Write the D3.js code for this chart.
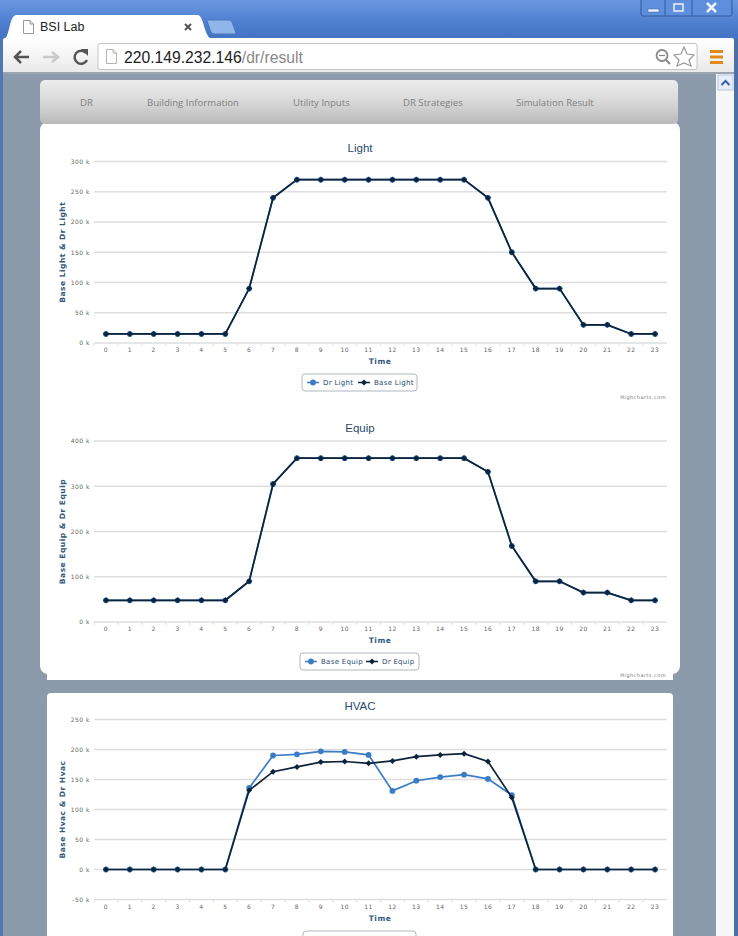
<!DOCTYPE html>
<html lang="en">
<head>
<meta charset="UTF-8" />
<title>BSI Lab</title>
<style>
  html, body { margin: 0; padding: 0; background: #8c9bab; overflow: hidden; }
  svg { display: block; font-family: "DejaVu Sans", sans-serif; }
  .grid line { stroke: #dedede; stroke-width: 1.5; }
  .axis text { font-family: "DejaVu Sans", sans-serif; font-size: 6px; letter-spacing: 0.5px; fill: #666; }
  .axis path, .axis line { stroke: none; }
  .axis-title { font-size: 7.5px; font-weight: bold; letter-spacing: 0.5px; fill: #33587c; }
  .chart-title { font-family: "Liberation Sans", sans-serif; font-size: 11.5px; fill: #274b6d; text-anchor: middle; }
  .legend-text { font-size: 7px; letter-spacing: 0.3px; fill: #274b6d; }
  .credit { font-size: 5px; letter-spacing: 0.45px; fill: #777; text-anchor: end; }
  .nav-item { font-family: "Open Sans", sans-serif; font-size: 9.6px; fill: #808080; }
</style>
</head>
<body>
<script src="https://cdnjs.cloudflare.com/ajax/libs/d3/7.8.5/d3.min.js"></script>
<script>

// hours of the day, shared by all three charts
var hours = ["0","1","2","3","4","5","6","7","8","9","10","11","12","13","14","15","16","17","18","19","20","21","22","23"];

// values, in k
var drLight   = [15,15,15,15,15,15,90,240,270,270,270,270,270,270,270,270,240,150,90,90,30,30,15,15];
var baseLight = [15,15,15,15,15,15,90,240,270,270,270,270,270,270,270,270,240,150,90,90,30,30,15,15];
var baseEquip = [48,48,48,48,48,48,90,305,362,362,362,362,362,362,362,362,332,168,90,90,65,65,48,48];
var drEquip   = [48,48,48,48,48,48,90,305,362,362,362,362,362,362,362,362,332,168,90,90,65,65,48,48];
var baseHvac  = [0,0,0,0,0,0,136,190,192,197,196,191,131,148,154,158,151,124,0,0,0,0,0,0];
var drHvac    = [0,0,0,0,0,0,132,163,171,179,180,177,181,188,191,193,180,120,0,0,0,0,0,0];

var lightTicks = [0,50,100,150,200,250,300];
var equipTicks = [0,100,200,300,400];
var hvacTicks  = [-50,0,50,100,150,200,250];
var navItems = ["DR","Building Information","Utility Inputs","DR Strategies","Simulation Result"];
var navX = [80,147,293,403,516];

var blue = "#3a7cc6", navy = "#0d233a";
var w = 738, h = 936;

var svg = d3.select("body").append("svg").attr("width", w).attr("height", h);
var defs = svg.append("defs");

function gradient(id, stops) {
  var g = defs.append("linearGradient").attr("id", id).attr("x1", 0).attr("y1", 0).attr("x2", 0).attr("y2", 1);
  stops.forEach(function(s, i) {
    g.append("stop").attr("offset", i / (stops.length - 1)).attr("stop-color", s);
  });
}
gradient("frameGrad", ["#6a97e0", "#4f80d0", "#3f6fbd"]);
gradient("navGrad", ["#ececec", "#d8d8d8", "#b9b9b9"]);
gradient("barGrad", ["#ffffff", "#f4f4f4", "#e8e8e8"]);

// shorthand for the window and page furniture
function box(x, y, width, height, fill, rx) {
  return svg.append("rect").attr("x", x).attr("y", y).attr("width", width).attr("height", height)
    .attr("fill", fill).attr("rx", rx || 0);
}
function stroke(d, color, sw) {
  return svg.append("path").attr("d", d).attr("fill", "none").attr("stroke", color).attr("stroke-width", sw || 1);
}

// ---- browser window ----
box(0, 0, w, 44, "url(#frameGrad)");
box(3, 38, 731, 36, "url(#barGrad)", 2);
box(3, 72, 731, 2, "#9aa5b1");
box(0, 39, 3, h, "#4f76b5");
box(734, 39, 4, h, "#4f6fa8");

// window buttons
box(641, -3, 91, 19, "#5f8fdc", 2).attr("stroke", "#2f5a9e");
stroke("M665,0V16M692,0V16", "#2f5a9e");
box(648, 9, 11, 3, "#eef3fb").attr("stroke", "#3a5f9a").attr("stroke-width", 0.5);
box(674, 4, 9, 7, "none").attr("stroke", "#eef3fb").attr("stroke-width", 1.5);
stroke("M707,3L716,12M716,3L707,12", "#eef3fb", 2.5);

// tabs
svg.append("path").attr("d", "M4,39 C10,37 9,16 16,15 H198 C204,16 204,37 212,39 Z").attr("fill", "#fff");
svg.append("path").attr("d", "M207,21 Q207,20 209,20 H229 Q231,20 232,22 L236,33 Q236,34 234,34 H214 Q212,34 211,32 Z")
   .attr("fill", "#8fb6ea").attr("stroke", "#4a78bf");
stroke("M23.5,20.5H30L33.5,24V33.5H23.5ZM30,20.5V24H33.5", "#999");
svg.append("text").attr("x", 40).attr("y", 31).attr("font-family", "Liberation Sans").attr("font-size", 12.5).attr("fill", "#222").text("BSI Lab");
stroke("M185,24L191,30M191,24L185,30", "#555", 2);

// toolbar
stroke("M29,57H16M21,51L15,57L21,63", "#555", 2.5);
stroke("M43,57H57M52,52L58,57L52,62", "#c9c9c9", 2.5);
stroke("M86,53A6.5,6.5 0 1 0 87,60", "#555", 2.5);
svg.append("path").attr("d", "M81,49H88V56Z").attr("fill", "#555");
box(98, 43.5, 599, 26, "#fff", 2).attr("stroke", "#c4c4c4");
stroke("M106.5,49.5H113L116.5,53V63.5H106.5ZM113,49.5V53H116.5", "#b5b5b5");
var url = svg.append("text").attr("x", 124).attr("y", 63).attr("font-family", "Liberation Sans").attr("font-size", 15.7);
url.append("tspan").attr("fill", "#222").text("220.149.232.146");
url.append("tspan").attr("fill", "#888").text("/dr/result");
svg.append("circle").attr("cx", 662).attr("cy", 55.5).attr("r", 5.5).attr("fill", "none").attr("stroke", "#888").attr("stroke-width", 1.8);
stroke("M666,60L670,64", "#888", 2);
stroke("M659,55.5H665", "#888", 1.2);
stroke("M684,47L687,54L694,55L689,60L691,66L684,63L677,66L679,60L674,55L681,54Z", "#999", 1.2);
box(710, 50, 13, 3, "#e08a1e");
box(710, 55.5, 13, 3, "#e08a1e");
box(710, 61, 13, 3, "#e08a1e");

// scrollbar strip on the right
box(716, 74, 18, h, "#f7f7f7");
box(718, 75, 15, 15, "#e6eefb").attr("stroke", "#b5c6e2");
stroke("M721.5,85L725.5,81L729.5,85", "#3a5fa5", 2);

// ---- page ----
box(40, 122, 640, 552, "#fff", 8);
box(47, 670, 626, 10, "#fff");
box(40, 80, 638, 44, "url(#navGrad)", 5);
svg.selectAll(".nav-item").data(navItems).enter().append("text")
   .attr("class", "nav-item")
   .attr("x", function(d, i) { return navX[i]; })
   .attr("y", 106)
   .text(function(d) { return d; });
box(47, 693, 626, h, "#fff", 4);

// ---- charts ----
function drawChart(c) {
  var xScale = d3.scaleBand().domain(hours).range([94, 667]);
  var yScale = d3.scaleLinear().domain([c.ticks[0], c.ticks[c.ticks.length - 1]]).range([c.bottom, c.top]);
  var g = svg.append("g");

  g.append("text").attr("class", "chart-title").attr("x", c.titleX).attr("y", c.top - 9.5).text(c.title);

  g.append("g").attr("class", "grid").selectAll("line").data(c.ticks).enter().append("line")
   .attr("x1", 94).attr("x2", 667)
   .attr("y1", function(d) { return yScale(d); })
   .attr("y2", function(d) { return yScale(d); });

  var yAxis = d3.axisLeft(yScale).tickValues(c.ticks).tickSize(0).tickPadding(4)
    .tickFormat(function(d) { return d + " k"; });
  g.append("g").attr("class", "axis").attr("transform", "translate(94,0)").call(yAxis);

  var xAxis = d3.axisBottom(xScale).tickSize(0).tickPadding(5);
  g.append("g").attr("class", "axis").attr("transform", "translate(0," + c.bottom + ")").call(xAxis);

  // ticks sit between the hours
  g.append("g").selectAll("line").data(hours).enter().append("line")
   .attr("x1", function(d) { return xScale(d); })
   .attr("x2", function(d) { return xScale(d); })
   .attr("y1", c.bottom).attr("y2", c.bottom + 3)
   .attr("stroke", "#dedede");

  g.append("text").attr("class", "axis-title").attr("text-anchor", "middle")
   .attr("x", 380).attr("y", c.bottom + 21).text("Time");
  g.append("text").attr("class", "axis-title").attr("text-anchor", "middle")
   .attr("transform", "translate(65," + (c.top + c.bottom) / 2 + ") rotate(-90)").text(c.yTitle);

  var line = d3.line()
    .x(function(d, i) { return xScale(hours[i]) + xScale.bandwidth() / 2; })
    .y(function(d) { return yScale(d); });

  c.series.forEach(function(s) {
    var marker = d3.symbol().type(s.color === blue ? d3.symbolCircle : d3.symbolSquare).size(s.color === blue ? 26 : 18);
    var turn = s.color === blue ? "" : " rotate(45)";
    g.append("path").attr("d", line(s.values)).attr("fill", "none").attr("stroke", s.color).attr("stroke-width", 1.7);
    g.append("g").selectAll("path").data(s.values).enter().append("path")
     .attr("d", marker)
     .attr("fill", s.color)
     .attr("transform", function(d, i) {
       return "translate(" + (xScale(hours[i]) + xScale.bandwidth() / 2) + "," + yScale(d) + ")" + turn;
     });

    // legend entry
    if (c.legend) {
      var i = c.series.indexOf(s);
      var lx = c.legend.x + c.legend.items[i];
      var ly = c.legend.y + 8.5;
      g.append("line").attr("x1", lx).attr("x2", lx + 12).attr("y1", ly).attr("y2", ly)
       .attr("stroke", s.color).attr("stroke-width", 1.5);
      g.append("path").attr("d", marker).attr("fill", s.color)
       .attr("transform", "translate(" + (lx + 6) + "," + ly + ")" + turn);
      g.append("text").attr("class", "legend-text").attr("x", lx + 16).attr("y", ly + 2.5).text(s.name);
    }
  });

  if (c.credit) {
    g.append("text").attr("class", "credit").attr("x", 666).attr("y", c.credit).text("Highcharts.com");
  }
}

// legend frames go first so their entries sit on top
function legendFrame(x, y, width) {
  box(x, y, width, 17, "#fff", 3).attr("stroke", "#b0b8c0");
}
legendFrame(302, 374, 115);
legendFrame(300, 653, 119);
// the HVAC legend runs off the bottom of the window, only its top edge shows
legendFrame(303, 931, 113);

drawChart({
  title: "Light", titleX: 360, yTitle: "Base Light & Dr Light",
  top: 161.5, bottom: 343, ticks: lightTicks, credit: 399,
  legend: { x: 302, items: [5, 56], y: 374 },
  series: [
    { name: "Dr Light", values: drLight, color: blue },
    { name: "Base Light", values: baseLight, color: navy }
  ]
});
drawChart({
  title: "Equip", titleX: 360, yTitle: "Base Equip & Dr Equip",
  top: 441, bottom: 622, ticks: equipTicks, credit: 677,
  legend: { x: 300, items: [5, 66], y: 653 },
  series: [
    { name: "Base Equip", values: baseEquip, color: blue },
    { name: "Dr Equip", values: drEquip, color: navy }
  ]
});
drawChart({
  title: "HVAC", titleX: 360, yTitle: "Base Hvac & Dr Hvac",
  top: 719.5, bottom: 899.5, ticks: hvacTicks,
  series: [
    { name: "Base Hvac", values: baseHvac, color: blue },
    { name: "Dr Hvac", values: drHvac, color: navy }
  ]
});

</script>
</body>
</html>
